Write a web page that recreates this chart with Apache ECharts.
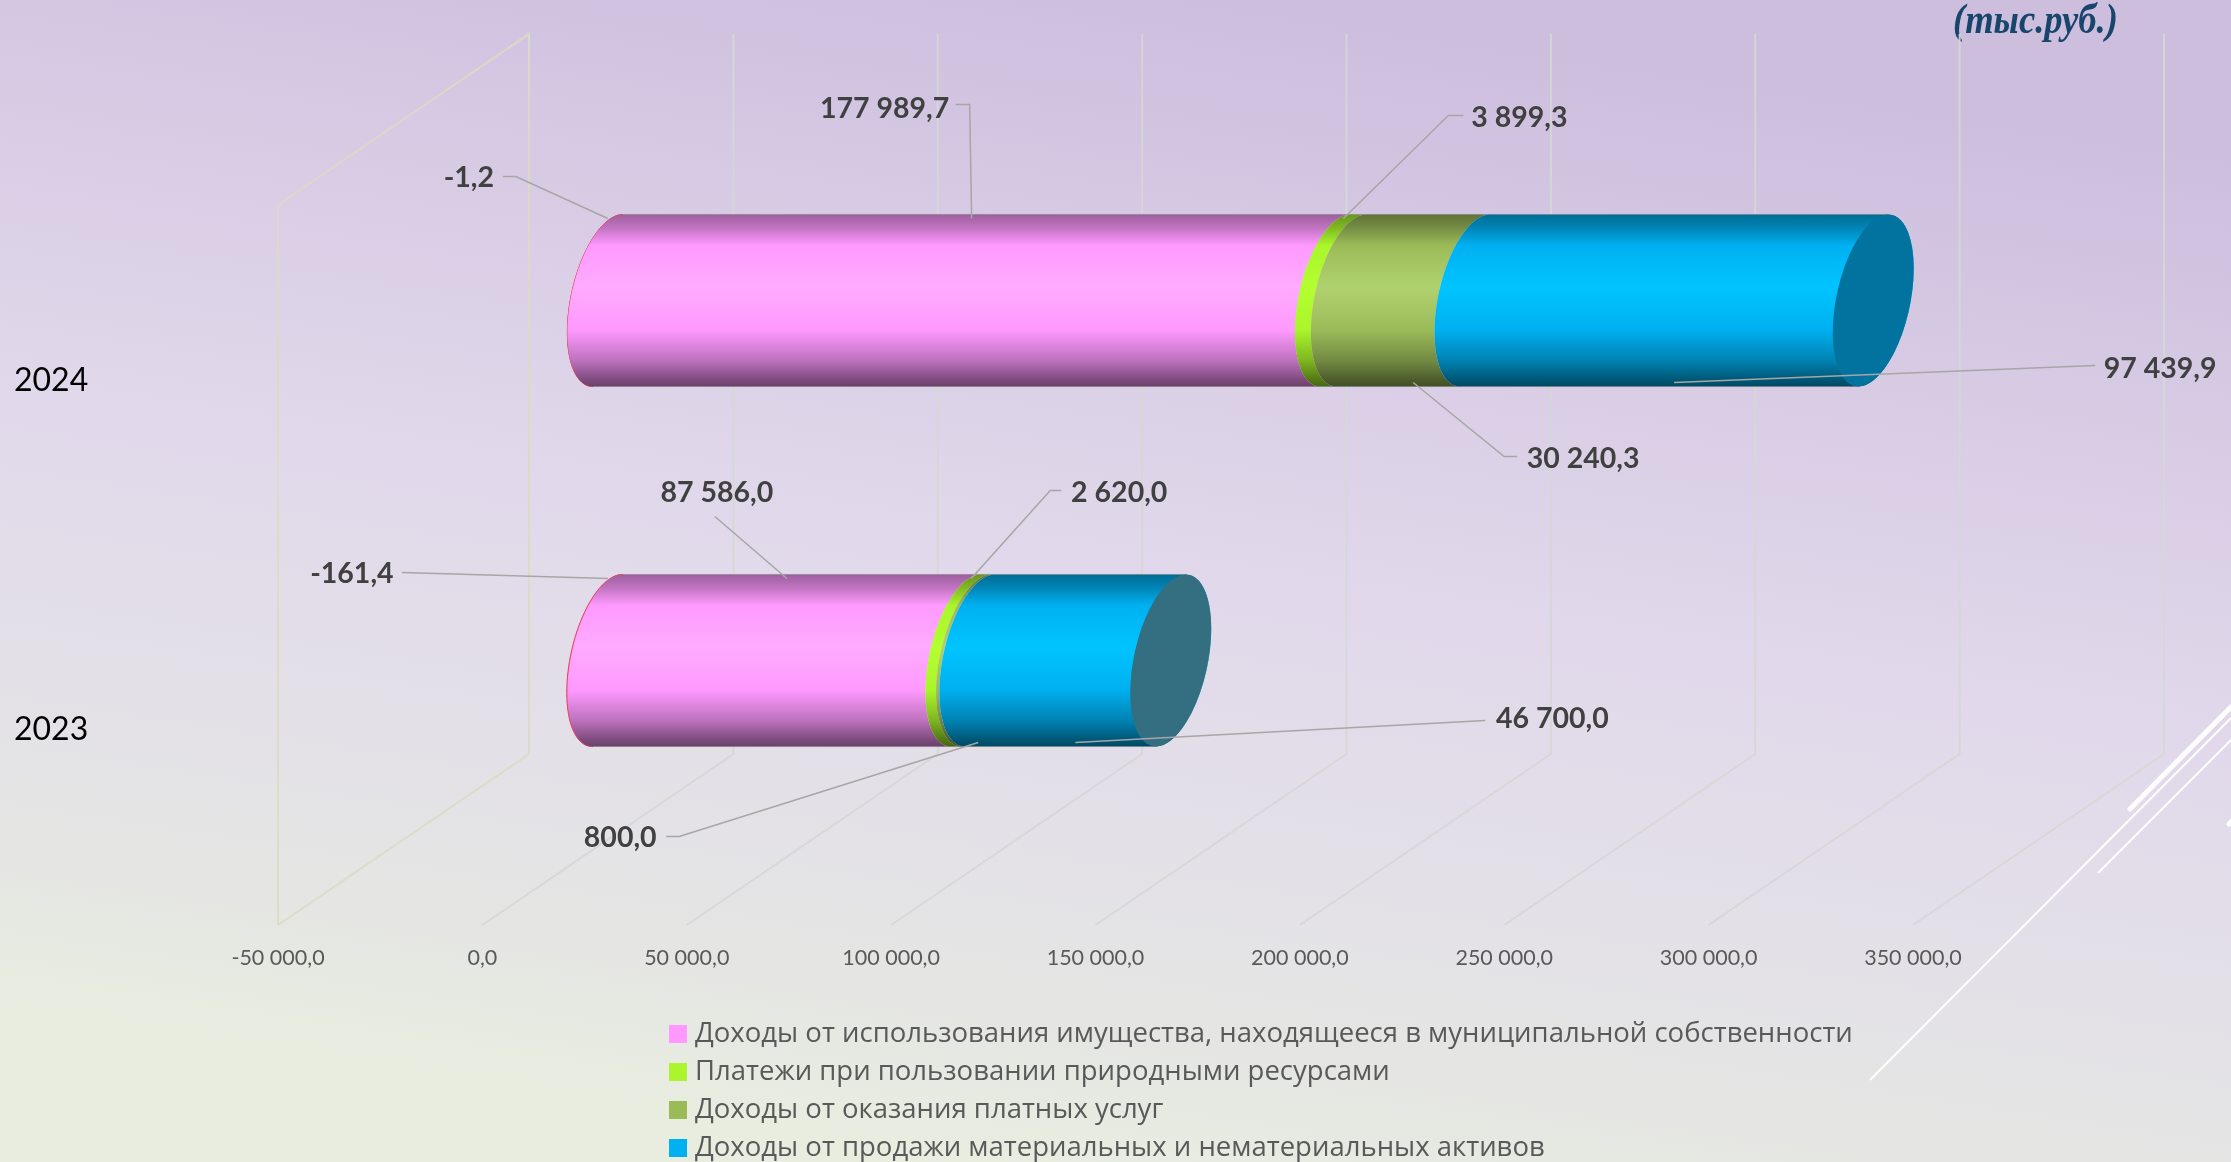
<!DOCTYPE html>
<html lang="ru">
<head>
    <meta charset="utf-8">
    <title>Неналоговые доходы</title>
    <style>
        html, body { margin: 0; padding: 0; }
        #main { width: 2231px; height: 1162px; }
    </style>
</head>
<body>
<div id="main"></div>
<script src="https://cdn.jsdelivr.net/npm/echarts@6/dist/echarts.min.js"></script>
<script>
    // data
    var categories = ['2023', '2024'];
    var tickValues = [-50000, 0, 50000, 100000, 150000, 200000, 250000, 300000, 350000];
    var negativeValues = [-161.4, -1.2];
    var propertyValues = [87586.0, 177989.7];
    var resourceValues = [2620.0, 3899.3];
    var serviceValues = [800.0, 30240.3];
    var assetValues = [46700.0, 97439.9];

    var propertyName = 'Доходы от использования имущества, находящееся в муниципальной собственности';
    var resourceName = 'Платежи при пользовании природными ресурсами';
    var serviceName = 'Доходы от оказания платных услуг';
    var assetName = 'Доходы от продажи материальных и нематериальных активов';

    // look of the 3d cylinders
    var capColors = ['#336f80', '#02739e'];
    var barShare = 0.478;
    var capRx = 37.6;
    var capSkew = 15;
    var depthX = 251;
    var depthY = 171;
    var font = 'Lato, "Open Sans", sans-serif';

    // label placement, px from the point where the leader touches the bar
    // per year: [touch side, text dx, text dy, leader points...]
    var negativeLabels = [[-1, -256, -5, [-206, -6]], [-1, -139, -41, [-92, -42], [-105, -42]]];
    var propertyLabels = [[-1, -70, -86, [-72, -62]], [-1, -87, -110, [-2, -114], [-16, -114]]];
    var resourceLabels = [[-1, 148, -86, [79, -88], [90, -88]], [-1, 176, -101, [105, -103], [120, -103]]];
    var serviceLabels = [[1, -358, 95, [-299, 94], [-312, 94]], [1, 170, 76, [91, 74], [104, 74]]];
    var assetLabels = [[1, 477, -24, [410, -22]], [1, 486, -14, [421, -17]]];

    function fmt(v) {
        var s = Math.abs(v).toFixed(1).split('.');
        var whole = s[0].replace(/\B(?=(\d{3})+$)/g, ' ');
        return (v < 0 ? '-' : '') + whole + ',' + s[1];
    }

    function shade(hex, k) {
        var n = parseInt(hex.slice(1), 16);
        var r = Math.round((n >> 16) * k), g = Math.round(((n >> 8) & 255) * k), b = Math.round((n & 255) * k);
        return 'rgb(' + r + ',' + g + ',' + b + ')';
    }

    function ramp(base, hi) {
        return {
            type: 'linear', x: 0, y: 0, x2: 0, y2: 1,
            colorStops: [
                {offset: 0, color: shade(base, 0.62)},
                {offset: 0.07, color: shade(base, 0.74)},
                {offset: 0.18, color: base},
                {offset: 0.42, color: hi},
                {offset: 0.67, color: base},
                {offset: 0.85, color: shade(base, 0.74)},
                {offset: 0.97, color: shade(base, 0.47)},
                {offset: 1, color: shade(base, 0.42)}
            ]
        };
    }

    // point of the tilted end ellipse, deg -90 is the top and 90 the bottom
    function rim(cx, cy, ry, deg) {
        var t = deg * Math.PI / 180;
        return [cx + capRx * Math.cos(t) - capSkew * Math.sin(t), cy + ry * Math.sin(t)];
    }

    function arc(cx, cy, ry, from, to) {
        var pts = [];
        var n = 48;
        for (var i = 0; i <= n; i++) {
            pts.push(rim(cx, cy, ry, from + (to - from) * i / n));
        }
        return pts;
    }

    function cylinderSeries(name, rows, base, hi, isLast, edge) {
        return {
            name: name,
            type: 'custom',
            xAxisIndex: 1,
            yAxisIndex: 1,
            coordinateSystem: 'cartesian2d',
            itemStyle: {color: base},
            data: rows,
            clip: false,
            renderItem: function (params, api) {
                var i = params.dataIndex;
                var a = api.coord([api.value(0), i]);
                var b = api.coord([api.value(1), i]);
                var ry = api.size([0, 1])[1] * barShare / 2;
                var left = arc(a[0], a[1], ry, -90, -270);
                var right = isLast ? arc(b[0], b[1], ry, 90, -90) : arc(b[0], b[1], ry, -270, -90);
                var kids = [{
                    type: 'polygon',
                    shape: {points: left.concat(right)},
                    style: edge ? {fill: base, stroke: base, lineWidth: edge} : {fill: ramp(base, hi)}
                }, {
                    type: 'polyline',
                    shape: {points: [left[0], right[right.length - 1]]},
                    style: {fill: null, stroke: 'rgba(120,120,120,0.45)', lineWidth: 1}
                }, {
                    type: 'polyline',
                    shape: {points: [left[left.length - 1], right[0]]},
                    style: {fill: null, stroke: 'rgba(120,120,120,0.45)', lineWidth: 1}
                }];
                if (isLast) {
                    kids.push({
                        type: 'polygon',
                        shape: {points: arc(b[0], b[1], ry, -90, 270)},
                        style: {fill: capColors[i]}
                    });
                }
                return {type: 'group', children: kids};
            }
        };
    }

    // stack the values per year
    var starts = [0, 0];
    function stack(values) {
        var rows = [];
        for (var i = 0; i < values.length; i++) {
            rows.push([starts[i], starts[i] + values[i]]);
            starts[i] += values[i];
        }
        return rows;
    }

    var negativeRows = negativeValues.map(function (v) { return [v, 0]; });
    var propertyRows = stack(propertyValues);
    var resourceRows = stack(resourceValues);
    var serviceRows = stack(serviceValues);
    var assetRows = stack(assetValues);

    var labelRows = [];
    [[negativeRows, negativeValues, negativeLabels],
     [propertyRows, propertyValues, propertyLabels],
     [resourceRows, resourceValues, resourceLabels],
     [serviceRows, serviceValues, serviceLabels],
     [assetRows, assetValues, assetLabels]].forEach(function (set, s) {
        for (var i = 0; i < categories.length; i++) {
            var mid = s === 0 ? 0 : (set[0][i][0] + set[0][i][1]) / 2;
            labelRows.push({value: [mid, i, set[1][i]], layout: set[2][i]});
        }
    });

    var wallSeries = {
        type: 'custom',
        xAxisIndex: 0,
        yAxisIndex: 0,
        silent: true,
        clip: false,
        data: tickValues.map(function (v) { return [v]; }),
        renderItem: function (params, api) {
            var v = api.value(0);
            var sys = params.coordSys;
            var x = api.coord([v, 0])[0];
            var bottom = sys.y + sys.height;
            var top = sys.y;
            var pts = [[x, bottom], [x + depthX, bottom - depthY], [x + depthX, top - depthY]];
            if (params.dataIndex === 0) {
                pts.push([x, top], [x, bottom]);
            }
            return {
                type: 'polyline',
                shape: {points: pts},
                style: {
                    fill: null,
                    lineWidth: 2,
                    stroke: params.dataIndex === 0 ? 'rgba(218,218,196,0.9)' : 'rgba(214,214,214,0.9)'
                }
            };
        }
    };

    var labelSeries = {
        type: 'custom',
        xAxisIndex: 1,
        yAxisIndex: 1,
        silent: true,
        clip: false,
        data: labelRows,
        renderItem: function (params, api) {
            var row = labelRows[params.dataIndex];
            var lay = row.layout;
            var c = api.coord([api.value(0), api.value(1)]);
            var ry = api.size([0, 1])[1] * barShare / 2;
            var ax = c[0];
            var ay = c[1] + lay[0] * (ry - 4);
            var pts = [[ax, ay]];
            for (var i = 3; i < lay.length; i++) {
                pts.push([ax + lay[i][0], ay + lay[i][1]]);
            }
            return {
                type: 'group',
                children: [{
                    type: 'polyline',
                    shape: {points: pts},
                    style: {fill: null, stroke: '#a6a6a6', lineWidth: 1.5}
                }, {
                    type: 'text',
                    style: {
                        text: fmt(api.value(2)),
                        x: ax + lay[1],
                        y: ay + lay[2],
                        align: 'center',
                        verticalAlign: 'middle',
                        fill: '#404040',
                        font: 'bold 28.5px ' + font
                    }
                }]
            };
        }
    };

    function hiddenX(idx) {
        return {
            type: 'value', gridIndex: idx, min: -50000, max: 350000, interval: 50000, show: false
        };
    }

    function hiddenY(idx) {
        return {type: 'category', gridIndex: idx, data: categories, show: false};
    }

    var myChart = echarts.init(document.getElementById('main'));
    var option = {
        animation: false,
        backgroundColor: {
            type: 'linear', x: 0.54, y: 0, x2: 0.46, y2: 1,
            colorStops: [
                {offset: 0, color: '#cdbede'},
                {offset: 0.3, color: '#dacfe6'},
                {offset: 0.5, color: '#e1d9eb'},
                {offset: 0.7, color: '#e3e0e8'},
                {offset: 0.88, color: '#e5e6e3'},
                {offset: 1, color: '#e8ede0'}
            ]
        },
        grid: [
            {left: 278, top: 205, width: 1635, height: 720},
            {left: 403.5, top: 120.5, width: 1635, height: 720},
            {left: 278, top: 206.5, width: 1635, height: 698}
        ],
        xAxis: [
            {
                type: 'value',
                gridIndex: 0,
                min: -50000,
                max: 350000,
                interval: 50000,
                axisLine: {show: false},
                axisTick: {show: false},
                splitLine: {show: false},
                axisLabel: {
                    margin: 22,
                    color: '#595959',
                    fontFamily: font,
                    fontSize: 21.5,
                    formatter: fmt
                }
            },
            hiddenX(1),
            hiddenX(2)
        ],
        yAxis: [
            hiddenY(0),
            hiddenY(1),
            {
                type: 'category',
                gridIndex: 2,
                data: categories,
                axisLine: {show: false},
                axisTick: {show: false},
                axisLabel: {
                    align: 'left',
                    margin: 264,
                    color: '#000000',
                    fontFamily: font,
                    fontSize: 32
                }
            }
        ],
        legend: {
            orient: 'vertical',
            left: 664,
            top: 1015,
            height: 170,
            itemWidth: 18,
            itemHeight: 18,
            itemGap: 10,
            icon: 'rect',
            selectedMode: false,
            data: [propertyName, resourceName, serviceName, assetName],
            textStyle: {
                color: '#595959',
                fontFamily: '"Open Sans", sans-serif',
                fontSize: 27.5,
                padding: [0, 0, 0, 3]
            }
        },
        graphic: [
            {
                type: 'text', silent: true, x: 1953, y: 1, scaleX: 0.87,
                style: {
                    text: '(тыс.руб.)',
                    fill: '#17456b',
                    font: 'italic bold 42px "Liberation Serif", serif'
                }
            },
            {type: 'line', silent: true, shape: {x1: 2130, y1: 809, x2: 2231, y2: 707}, style: {stroke: '#ffffff', lineWidth: 5, lineCap: 'round'}},
            {type: 'line', silent: true, shape: {x1: 1870, y1: 1080, x2: 2231, y2: 718}, style: {stroke: '#ffffff', lineWidth: 2}},
            {type: 'line', silent: true, shape: {x1: 2098, y1: 873, x2: 2231, y2: 740}, style: {stroke: '#ffffff', lineWidth: 2}},
            {type: 'line', silent: true, shape: {x1: 2229, y1: 824, x2: 2233, y2: 820}, style: {stroke: '#ffffff', lineWidth: 5, lineCap: 'round'}}
        ],
        series: [
            wallSeries,
            cylinderSeries('Отрицательные', negativeRows, '#e8476a', '#e8476a', false, 1),
            cylinderSeries(propertyName, propertyRows, '#ff99ff', '#ffaaff', false),
            cylinderSeries(resourceName, resourceRows, '#aaf52c', '#b4ff30', false),
            cylinderSeries(serviceName, serviceRows, '#9bbb59', '#b0d26e', false),
            cylinderSeries(assetName, assetRows, '#00b0f0', '#00c4ff', true),
            labelSeries
        ]
    };

    myChart.setOption(option);
</script>
</body>
</html>
